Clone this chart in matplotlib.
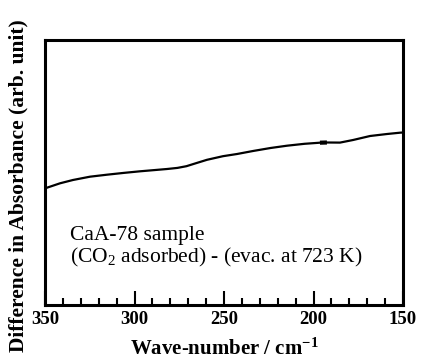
import matplotlib
matplotlib.use("Agg")
import matplotlib.pyplot as plt
from matplotlib.ticker import MultipleLocator

plt.rcParams['font.family'] = ['Liberation Serif', 'DejaVu Serif']
plt.rcParams['mathtext.default'] = 'regular'

# difference spectrum, CaA-78 (arbitrary absorbance units)
wavenumber = [350, 348.9, 341.6, 334.4, 324.9, 315.4, 306, 296.9, 289, 281.8, 276,
              271, 266, 259.5, 250.6, 242.7, 233.8, 224, 214.8, 205, 196.4, 192.5,
              185.2, 177.9, 168.4, 158.9, 151.7, 150]
absorbance = [116.6, 117.3, 121.7, 125.0, 128.3, 130.3, 132.1, 133.7, 134.9, 136.0, 137.1,
              138.8, 141.6, 145.2, 148.8, 151.0, 154.0, 157.0, 159.3, 161.2, 162.3, 162.5,
              162.4, 165.0, 169.0, 171.0, 172.3, 172.5]

sample_label = "CaA-78 sample"
condition_label = "(CO$_2$ adsorbed) - (evac. at 723 K)"

fig = plt.figure(figsize=(4.22, 3.6), dpi=100)
ax = fig.add_axes([45 / 422, 55 / 360, 358 / 422, 265 / 360])

ax.plot(wavenumber, absorbance, color='black', lw=1.6, solid_capstyle='butt')
# short heavier stroke where the trace was joined
ax.plot(wavenumber[20:22], absorbance[20:22], color='black', lw=3.0, solid_capstyle='butt')

ax.set_xlim(350, 150)
ax.set_ylim(0, 265)

for s in ax.spines.values():
    s.set_linewidth(2.2)

ax.xaxis.set_major_locator(MultipleLocator(50))
ax.xaxis.set_minor_locator(MultipleLocator(10))
ax.tick_params(axis='x', which='major', direction='in', length=10, width=1.5, pad=4,
               labelsize=13.5)
ax.tick_params(axis='x', which='minor', direction='in', length=5, width=1.5)
ax.tick_params(axis='y', left=False, labelleft=False)
for lbl in ax.get_xticklabels():
    lbl.set_fontweight('bold')

ax.set_xlabel("Wave-number / cm$^{-1}$", fontsize=15, fontweight='bold')
ax.xaxis.set_label_coords(0.5, -0.125)
ax.set_ylabel("Difference in Absorbance (arb. unit)", fontsize=15.5, fontweight='bold')
ax.yaxis.set_label_coords(-0.045, 0.45)

ax.text(0.07, 0.245, sample_label, transform=ax.transAxes, fontsize=15.5)
ax.text(0.07, 0.162, condition_label, transform=ax.transAxes, fontsize=15.5)

fig.savefig("out.png", dpi=100)
